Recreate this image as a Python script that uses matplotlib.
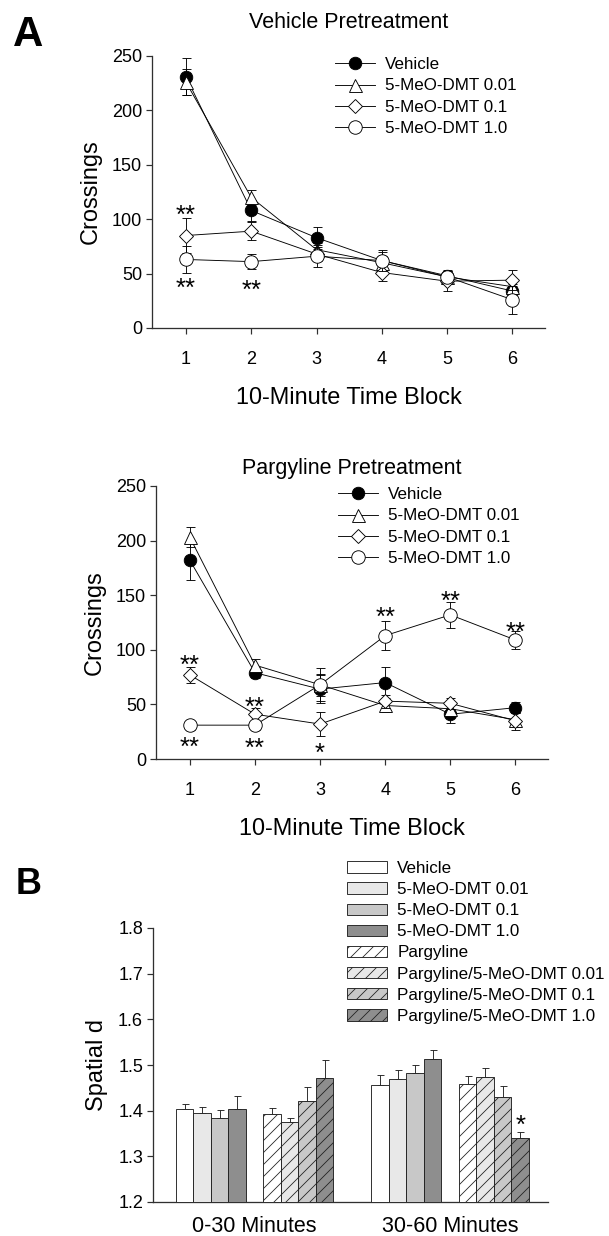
import matplotlib
matplotlib.use("Agg")
import matplotlib.pyplot as plt
from matplotlib.patches import Patch
from matplotlib.lines import Line2D
import numpy as np

plt.rcParams['font.family'] = ['Liberation Sans', 'DejaVu Sans']
plt.rcParams['hatch.linewidth'] = 0.8
plt.rcParams['hatch.color'] = '#202020'

# ---------------- data ----------------
blocks = [1, 2, 3, 4, 5, 6]
series_names = ["Vehicle", "5-MeO-DMT 0.01", "5-MeO-DMT 0.1", "5-MeO-DMT 1.0"]

# Vehicle pretreatment (crossings)
veh_vehicle = [231, 108, 83, 62, 48, 34]
veh_vehicle_sem = [17, 10, 10, 8, 5, 6]
veh_d001 = [226, 120, 72, 60, 47, 38]
veh_d001_sem = [12, 7, 6, 6, 5, 6]
veh_d01 = [85, 89, 68, 51, 43, 44]
veh_d01_sem = [16, 8, 6, 8, 9, 9]
veh_d10 = [63, 61, 66, 62, 47, 26]
veh_d10_sem = [12, 7, 10, 10, 5, 13]

# Pargyline pretreatment (crossings)
par_vehicle = [182, 79, 64, 70, 41, 47]
par_vehicle_sem = [18, 5, 13, 14, 8, 5]
par_d001 = [203, 86, 68, 49, 46, 36]
par_d001_sem = [9, 6, 10, 6, 5, 6]
par_d01 = [77, 41, 32, 53, 51, 35]
par_d01_sem = [7, 6, 11, 6, 5, 8]
par_d10 = [31, 31, 68, 113, 132, 109]
par_d10_sem = [4, 4, 15, 13, 12, 8]

# significance marks: (block, y, text)
veh_stars = [(1, 110, "**"), (1, 43, "**"), (2, 41, "**")]
par_stars = [(1, 92, "**"), (1, 17, "**"), (2, 54, "**"), (2, 16, "**"),
             (3, 12, "*"), (4, 136, "**"), (5, 151, "**"), (6, 123, "**")]

# Panel B: spatial d
periods = ["0-30 Minutes", "30-60 Minutes"]
bar_labels = ["Vehicle", "5-MeO-DMT 0.01", "5-MeO-DMT 0.1", "5-MeO-DMT 1.0",
              "Pargyline", "Pargyline/5-MeO-DMT 0.01", "Pargyline/5-MeO-DMT 0.1",
              "Pargyline/5-MeO-DMT 1.0"]
d_0_30 = [1.403, 1.394, 1.385, 1.404, 1.392, 1.376, 1.422, 1.472]
d_0_30_sem = [0.011, 0.015, 0.016, 0.029, 0.014, 0.009, 0.029, 0.039]
d_30_60 = [1.456, 1.469, 1.483, 1.513, 1.458, 1.473, 1.431, 1.340]
d_30_60_sem = [0.023, 0.020, 0.017, 0.020, 0.017, 0.020, 0.023, 0.013]
bar_stars = [(1, 7, 1.383, "*")]  # (period index, bar index, y, text)

# ---------------- styling ----------------
W, H = 609, 1236
DPI = 72
fig = plt.figure(figsize=(W / DPI, H / DPI), dpi=DPI)

def fr(x0, y_top, x1, y_bot):
    return [x0 / W, 1 - y_bot / H, (x1 - x0) / W, (y_bot - y_top) / H]

SPINE = '#303030'
TICK_FS = 18
LABEL_FS = 23.5
TITLE_FS = 21.5
LEG_FS = 17
STAR_FS = 26

def style_axes(ax):
    for s in ['top', 'right']:
        ax.spines[s].set_visible(False)
    for s in ['left', 'bottom']:
        ax.spines[s].set_color(SPINE)
        ax.spines[s].set_linewidth(1.3)
    ax.tick_params(direction='out', length=6, width=1.2, color=SPINE,
                   labelsize=TICK_FS, pad=4)

def star(ax, x, y, txt):
    ax.annotate(txt, (x, y), xytext=(0, -0.57 * STAR_FS),
                textcoords='offset points', ha='center', va='baseline',
                fontsize=STAR_FS, zorder=10)

markers = [dict(marker='o', ms=12.5, mfc='black', mec='black'),
           dict(marker='^', ms=13, mfc='white', mec='black'),
           dict(marker='D', ms=10, mfc='white', mec='black'),
           dict(marker='o', ms=13.5, mfc='white', mec='black')]

def line_panel(rect, title, means, sems, stars, title_pad):
    ax = fig.add_axes(rect)
    style_axes(ax)
    for k, (m, e) in enumerate(zip(means, sems)):
        ax.errorbar(blocks, m, yerr=e, color='black', lw=0.9, elinewidth=0.9,
                    capsize=4.5, capthick=0.9, mew=0.9, zorder=3 + k,
                    **markers[k])
    for bx, by, txt in stars:
        star(ax, bx, by, txt)
    ax.set_xlim(0.48, 6.5)
    ax.set_ylim(0, 250)
    ax.set_xticks(blocks)
    ax.set_yticks([0, 50, 100, 150, 200, 250])
    ax.tick_params(axis='x', pad=17)
    ax.set_xlabel("10-Minute Time Block", fontsize=LABEL_FS, labelpad=19)
    ax.set_ylabel("Crossings", fontsize=LABEL_FS, labelpad=10)
    ax.set_title(title, fontsize=TITLE_FS, pad=title_pad)
    return ax

ax1 = line_panel(fr(152, 56, 545, 328), "Vehicle Pretreatment",
                 [veh_vehicle, veh_d001, veh_d01, veh_d10],
                 [veh_vehicle_sem, veh_d001_sem, veh_d01_sem, veh_d10_sem],
                 veh_stars, 28)
ax2 = line_panel(fr(156, 486, 548, 759), "Pargyline Pretreatment",
                 [par_vehicle, par_d001, par_d01, par_d10],
                 [par_vehicle_sem, par_d001_sem, par_d01_sem, par_d10_sem],
                 par_stars, 12)

def line_handles():
    return [Line2D([], [], color='black', lw=0.9, mew=0.9, **markers[k])
            for k in range(4)]

for ax, (lx, ly) in [(ax1, (335, 57)), (ax2, (338, 487))]:
    fig.legend(line_handles(), series_names, loc='upper left',
               bbox_to_anchor=(lx / W, 1 - ly / H), frameon=False,
               fontsize=LEG_FS, handlelength=2.35, handletextpad=0.6,
               labelspacing=0.38, borderpad=0, borderaxespad=0)

# ---------------- panel B ----------------
ax3 = fig.add_axes(fr(153, 928, 548, 1202))
style_axes(ax3)
bw = 0.0895
offsets = np.array([-4, -3, -2, -1, 1, 2, 3, 4]) * bw
fills = ['white', '#e8e8e8', '#c8c8c8', '#8e8e8e'] * 2
hatches = [None] * 4 + ['//'] * 4
groups = [(d_0_30, d_0_30_sem), (d_30_60, d_30_60_sem)]
for b in range(8):
    xs = [g + offsets[b] for g in range(2)]
    vals = [groups[g][0][b] for g in range(2)]
    errs = [groups[g][1][b] for g in range(2)]
    ax3.bar(xs, [v - 1.2 for v in vals], bottom=1.2, width=bw,
            color=fills[b], edgecolor='#202020', linewidth=0.9,
            hatch=hatches[b], zorder=3)
    ax3.errorbar(xs, vals, yerr=[[0, 0], errs], fmt='none', ecolor='#202020',
                 elinewidth=0.9, capsize=3.5, capthick=0.9, zorder=2)
for g, b, y, txt in bar_stars:
    star(ax3, g + offsets[b], y, txt)
ax3.set_xlim(-0.52, 1.5)
ax3.set_ylim(1.2, 1.8)
ax3.set_yticks([1.2, 1.3, 1.4, 1.5, 1.6, 1.7, 1.8])
ax3.set_yticklabels([f"{v:.1f}" for v in [1.2, 1.3, 1.4, 1.5, 1.6, 1.7, 1.8]])
ax3.set_xticks([0, 1])
ax3.set_xticklabels(periods, fontsize=21.5)
ax3.tick_params(axis='x', length=0, pad=14)
ax3.set_ylabel("Spatial d", fontsize=LABEL_FS, labelpad=10)

bar_handles = [Patch(facecolor=fills[b], edgecolor='#202020', linewidth=0.9,
                     hatch=hatches[b]) for b in range(8)]
fig.legend(bar_handles, bar_labels, loc='upper left',
           bbox_to_anchor=(347 / W, 1 - 861 / H), frameon=False,
           fontsize=LEG_FS, handlelength=2.35, handleheight=0.65,
           handletextpad=0.6, labelspacing=0.36, borderpad=0, borderaxespad=0)

fig.text(28 / W, 1 - 35 / H, "A", fontsize=42, fontweight='bold',
         ha='center', va='center')
fig.text(29 / W, 1 - 885 / H, "B", fontsize=36, fontweight='bold',
         ha='center', va='center')

fig.savefig("out.png", dpi=DPI, facecolor='white')
